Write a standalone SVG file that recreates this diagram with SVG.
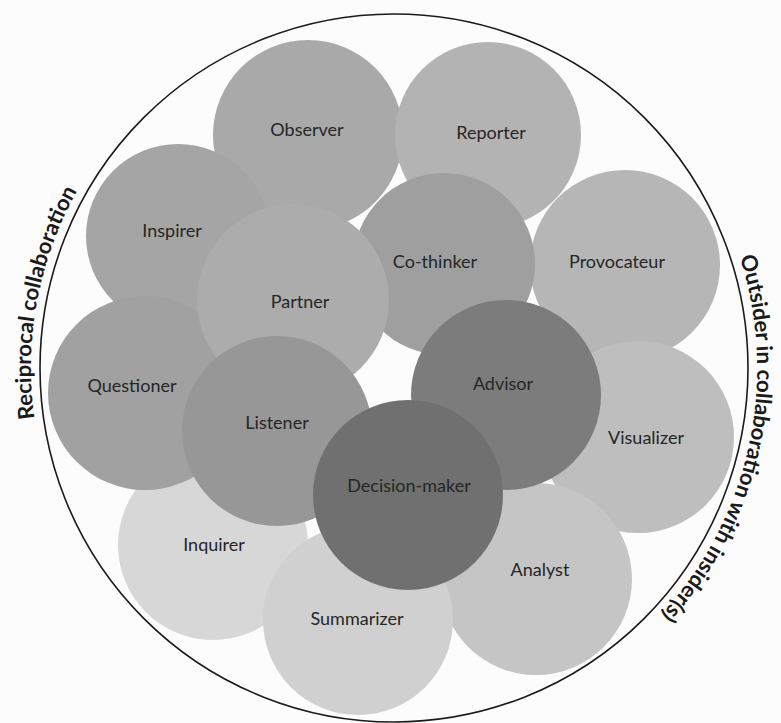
<svg xmlns="http://www.w3.org/2000/svg" xmlns:xlink="http://www.w3.org/1999/xlink" width="781" height="723" viewBox="0 0 781 723">
  <style>
    .role { stroke: none; }
    .lbl { font-family: Lato, "Open Sans", "Liberation Sans", sans-serif; font-size: 18px; fill: #262626; text-anchor: middle; }
    .arc-lbl { font-family: Lato, "Open Sans", "Liberation Sans", sans-serif; font-size: 22px; font-weight: bold; fill: #1a1a1a; }
  </style>
  <defs>
    <!-- clockwise arcs just outside the enclosing circle, used as text baselines -->
    <path id="arcLeft" d="M 34.5 418.5 A 363 363 0 0 1 96.7 159.8"/>
    <path id="arcRight" d="M 739.6 257 A 363 363 0 0 1 627.3 646.5"/>
  </defs>

  <rect x="0" y="0" width="781" height="723" fill="#fcfcfc"/>

  <!-- enclosing circle -->
  <circle cx="394" cy="368" r="354" fill="none" stroke="#1a1a1a" stroke-width="1.6"/>

  <g id="observer"><circle class="role" cx="308" cy="135" r="95" fill="#a9a9a9"/><text class="lbl" x="307" y="136">Observer</text></g>
  <g id="inspirer"><circle class="role" cx="178" cy="236" r="92" fill="#a5a5a5"/><text class="lbl" x="172" y="237">Inspirer</text></g>
  <g id="reporter"><circle class="role" cx="488" cy="135" r="93" fill="#b3b3b3"/><text class="lbl" x="491" y="139">Reporter</text></g>
  <g id="provocateur"><circle class="role" cx="625" cy="265" r="95" fill="#b6b6b6"/><text class="lbl" x="617" y="268">Provocateur</text></g>
  <g id="inquirer"><circle class="role" cx="213" cy="545" r="95" fill="#d7d7d7"/><text class="lbl" x="214" y="551">Inquirer</text></g>
  <g id="questioner"><circle class="role" cx="145" cy="393" r="97" fill="#a1a1a1"/><text class="lbl" x="132" y="392">Questioner</text></g>
  <g id="co-thinker"><circle class="role" cx="444" cy="264" r="91" fill="#9f9f9f"/><text class="lbl" x="435" y="268">Co-thinker</text></g>
  <g id="partner"><circle class="role" cx="293" cy="300" r="96" fill="#acacac"/><text class="lbl" x="300" y="308">Partner</text></g>
  <g id="listener"><circle class="role" cx="277" cy="431" r="95" fill="#979797"/><text class="lbl" x="277" y="429">Listener</text></g>
  <g id="visualizer"><circle class="role" cx="638" cy="437" r="96" fill="#bebebe"/><text class="lbl" x="646" y="444">Visualizer</text></g>
  <g id="analyst"><circle class="role" cx="536" cy="579" r="96" fill="#c5c5c5"/><text class="lbl" x="540" y="576">Analyst</text></g>
  <g id="advisor"><circle class="role" cx="506" cy="395" r="95" fill="#7c7c7c"/><text class="lbl" x="503" y="390">Advisor</text></g>
  <g id="summarizer"><circle class="role" cx="358" cy="620" r="95" fill="#d0d0d0"/><text class="lbl" x="357" y="625">Summarizer</text></g>
  <g id="decision-maker"><circle class="role" cx="408" cy="495" r="95" fill="#707070"/><text class="lbl" x="409" y="492">Decision-maker</text></g>

  <!-- side captions following the enclosing circle -->
  <text class="arc-lbl"><textPath xlink:href="#arcLeft" href="#arcLeft">Reciprocal collaboration</textPath></text>
  <text class="arc-lbl"><textPath xlink:href="#arcRight" href="#arcRight">Outsider in collaboration with insider(s)</textPath></text>
</svg>
